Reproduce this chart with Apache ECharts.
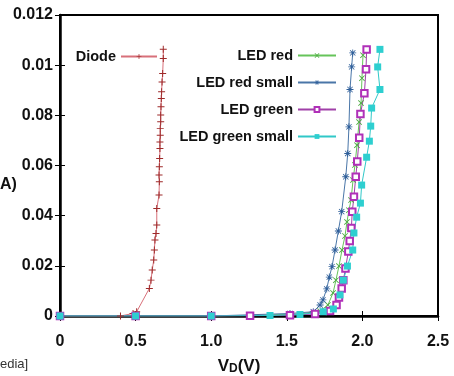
<!DOCTYPE html>
<html>
<head>
<meta charset="utf-8">
<script src="https://cdn.jsdelivr.net/npm/echarts@6/dist/echarts.min.js"></script>
<style>
  html, body { margin: 0; padding: 0; background: #fff; }
  #chart { width: 454px; height: 376px; }
</style>
</head>
<body>
<div id="chart"></div>
<script>
// tick labels as printed on the original figure
const xTickLabels = ['0', '0.5', '1.0', '1.5', '2.0', '2.5'];
const yTickLabels = ['0', '0.02', '0.04', '0.06', '0.08', '0.01', '0.012'];

// [V, I] pairs
const diode = [
  [0, 0], [0.4, 0], [0.483, 0.0001], [0.507, 0.00017], [0.591, 0.0011], [0.602, 0.00143],
  [0.61, 0.00183], [0.62, 0.00223], [0.624, 0.00263], [0.628, 0.00303], [0.635, 0.00329],
  [0.64, 0.00363], [0.64, 0.00429], [0.655, 0.00482], [0.657, 0.00535], [0.655, 0.00562],
  [0.657, 0.00595], [0.659, 0.00628], [0.661, 0.00668], [0.661, 0.00694], [0.663, 0.00721],
  [0.663, 0.00748], [0.666, 0.00774], [0.666, 0.00801], [0.668, 0.00834], [0.67, 0.00867],
  [0.672, 0.00894], [0.675, 0.00933], [0.679, 0.00967], [0.683, 0.01027], [0.683, 0.01063]
];
const ledRed = [
  [0, 0], [0.5, 0], [1.0, 0], [1.257, 0.00002], [1.587, 0.00008], [1.72, 0.0002],
  [1.772, 0.00044], [1.806, 0.00092], [1.825, 0.00143], [1.845, 0.00199], [1.865, 0.00263],
  [1.885, 0.00319], [1.898, 0.00375], [1.911, 0.00422], [1.925, 0.00462], [1.938, 0.00542],
  [1.951, 0.00602], [1.964, 0.00681], [1.978, 0.00773], [1.991, 0.00849], [1.997, 0.00948],
  [2.004, 0.0104]
];
const ledRedSmall = [
  [0, 0], [0.5, 0], [1.0, 0], [1.521, 0.0001], [1.675, 0.00017], [1.72, 0.00044],
  [1.739, 0.00064], [1.764, 0.00108], [1.781, 0.00155], [1.799, 0.00197], [1.819, 0.00263],
  [1.841, 0.00339], [1.863, 0.00416], [1.89, 0.00555], [1.903, 0.00648], [1.911, 0.00754],
  [1.918, 0.00903], [1.929, 0.00993], [1.936, 0.01049]
];
const ledGreen = [
  [0, 0], [0.5, 0], [1.0, 0], [1.257, 0.00001], [1.521, 0.00003], [1.687, 0.00008],
  [1.786, 0.0002], [1.829, 0.00044], [1.845, 0.00074], [1.863, 0.0011], [1.874, 0.00143],
  [1.888, 0.00189], [1.907, 0.00257], [1.916, 0.00299], [1.927, 0.00351], [1.933, 0.00416],
  [1.944, 0.00475], [1.956, 0.00555], [1.966, 0.00616], [1.979, 0.00711], [1.987, 0.00805],
  [2.013, 0.00888], [2.024, 0.00984], [2.028, 0.01062]
];
const ledGreenSmall = [
  [0, 0], [0.5, 0], [1.0, 0], [1.389, 0.00002], [1.587, 0.00006], [1.741, 0.00017],
  [1.808, 0.00028], [1.852, 0.00084], [1.874, 0.00143], [1.901, 0.00199], [1.936, 0.00263],
  [1.944, 0.00331], [1.962, 0.00394], [1.987, 0.0045], [1.995, 0.00522], [2.028, 0.00633],
  [2.046, 0.00697], [2.055, 0.00757], [2.061, 0.00829], [2.116, 0.00903], [2.101, 0.00993],
  [2.116, 0.01063]
];

const plusPath = 'path://M4.3,0h1.4v4.3h4.3v1.4h-4.3v4.3h-1.4v-4.3h-4.3v-1.4h4.3z';
const crossPath = 'path://M0,1L1,0L5,4L9,0L10,1L6,5L10,9L9,10L5,6L1,10L0,9L4,5Z';
const starPath = 'path://M4.4,0h1.2v4.4h4.4v1.2h-4.4v4.4h-1.2v-4.4h-4.4v-1.2h4.4z' +
  'M0.8,1.6L1.6,0.8L5,4.2L8.4,0.8L9.2,1.6L5.8,5L9.2,8.4L8.4,9.2L5,5.8L1.6,9.2L0.8,8.4L4.2,5Z';

const font = '"Liberation Sans", Arial, sans-serif';
const chart = echarts.init(document.getElementById('chart'));

function mk(name, data, lineColor, markColor, symbol, size, extra) {
  return Object.assign({
    name: name, type: 'line', data: data,
    symbol: symbol, symbolSize: size,
    lineStyle: { color: lineColor, width: 1 },
    itemStyle: { color: markColor },
    emphasis: { disabled: true },
    animation: false
  }, extra || {});
}

const axisTxt = { color: '#111', fontFamily: font, fontWeight: 'bold', fontSize: 16 };
const legTxt = { fontFamily: font, fontWeight: 'bold', fontSize: 14.5, color: '#111' };

chart.setOption({
  backgroundColor: '#fff',
  grid: {
    left: 60, top: 15, right: 16, bottom: 60, outerBoundsMode: 'none', containLabel: false,
    show: true, borderColor: '#000', borderWidth: 2
  },
  xAxis: [{
    type: 'value', min: 0, max: 2.5, interval: 0.5,
    axisLine: { lineStyle: { color: '#000', width: 2.5 } },
    axisTick: { inside: true, length: 5, lineStyle: { color: '#000' } },
    splitLine: { show: false },
    axisLabel: Object.assign({ margin: 18, formatter: v => xTickLabels[Math.round(v / 0.5)] }, axisTxt),
    name: '{a|V}{b|D}{a|(V)}', nameLocation: 'middle', nameGap: 42,
    nameTextStyle: {
      padding: [0, 20, 0, 0],
      rich: {
        a: { fontFamily: font, fontWeight: 'bold', fontSize: 17, color: '#111' },
        b: { fontFamily: font, fontWeight: 'bold', fontSize: 12, color: '#111', verticalAlign: 'bottom' }
      }
    }
  }, {
    type: 'value', position: 'top', min: 0, max: 2.5, interval: 0.5,
    axisLine: { lineStyle: { color: '#000', width: 2 } },
    axisTick: { inside: true, length: 5, lineStyle: { color: '#000' } },
    axisLabel: { show: false }, splitLine: { show: false }
  }],
  yAxis: [{
    type: 'value', min: 0, max: 0.012, interval: 0.002,
    axisLine: { show: true, lineStyle: { color: '#000', width: 2.5 } },
    axisTick: { show: true, inside: true, length: 5, lineStyle: { color: '#000' } },
    splitLine: { show: false },
    axisLabel: Object.assign({ margin: 7, formatter: v => yTickLabels[Math.round(v / 0.002)] }, axisTxt)
  }, {
    type: 'value', position: 'right', min: 0, max: 0.012, interval: 0.002,
    axisLine: { show: true, lineStyle: { color: '#000', width: 2 } },
    axisTick: { show: true, inside: true, length: 5, lineStyle: { color: '#000' } },
    axisLabel: { show: false }, splitLine: { show: false }
  }],
  legend: [{
    data: ['Diode'], right: 291, top: 44,
    align: 'right', itemWidth: 36, itemHeight: 6,
    textStyle: legTxt
  }, {
    data: ['LED red', 'LED red small', 'LED green', 'LED green small'],
    orient: 'vertical', right: 112, top: 43,
    align: 'right', itemWidth: 38, itemHeight: 6, itemGap: 12,
    textStyle: legTxt
  }],
  graphic: [
    { type: 'text', left: 0, top: 177, style: { text: 'A)', fontFamily: font, fontWeight: 'bold', fontSize: 16, fill: '#111' } },
    { type: 'text', left: 0, top: 358, style: { text: 'edia]', fontFamily: font, fontSize: 13, fill: '#333' } }
  ],
  series: [
    mk('Diode', diode, '#d8707a', '#9e2a2a', plusPath, 7),
    mk('LED red', ledRed, '#66c45a', '#4aa83e', crossPath, 6),
    mk('LED red small', ledRedSmall, '#4a76a8', '#2f5f9a', starPath, 7),
    mk('LED green', ledGreen, '#a040a8', '#b030b8', 'emptyRect', 6.5, {
      itemStyle: { color: '#b030b8', borderWidth: 1.1 }
    }),
    mk('LED green small', ledGreenSmall, '#30c8c8', '#2ecfd0', 'rect', 7)
  ]
});
</script>
</body>
</html>
